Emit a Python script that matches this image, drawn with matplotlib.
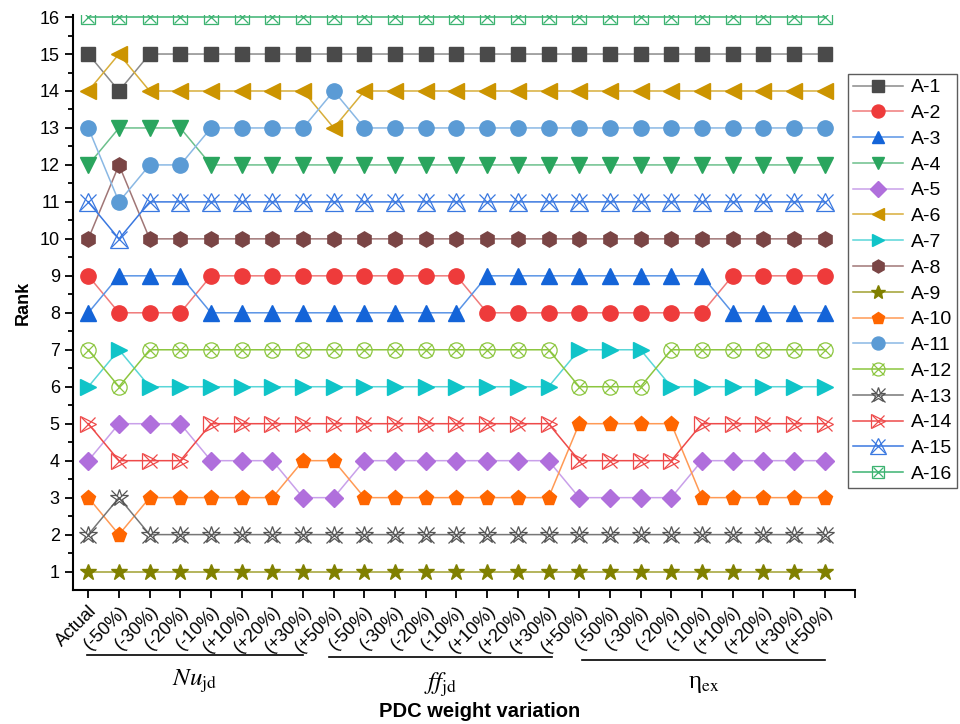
import matplotlib.pyplot as plt
import matplotlib.transforms as mtransforms
from matplotlib.lines import Line2D

plt.rcParams['font.family'] = ['Liberation Sans', 'DejaVu Sans']
plt.rcParams['mathtext.fontset'] = 'stix'

# x categories: Actual + 8 weight variations for each of 3 criteria
variations = ["(-50%)", "(-30%)", "(-20%)", "(-10%)", "(+10%)", "(+20%)", "(+30%)", "(+50%)"]
xlabels = ["Actual"] + variations * 3

# ranks, 25 points each
A1 = [15, 14] + [15] * 23
A2 = [9, 8, 8, 8] + [9] * 9 + [8] * 8 + [9] * 4
A3 = [8, 9, 9, 9] + [8] * 9 + [9] * 8 + [8] * 4
A4 = [12, 13, 13, 13] + [12] * 21
A5 = [4, 5, 5, 5, 4, 4, 4, 3, 3] + [4] * 7 + [3] * 4 + [4] * 5
A6 = [14, 15] + [14] * 6 + [13] + [14] * 16
A7 = [6, 7] + [6] * 14 + [7] * 3 + [6] * 6
A8 = [10, 12] + [10] * 23
A9 = [1] * 25
A10 = [3, 2] + [3] * 5 + [4, 4] + [3] * 7 + [5] * 4 + [3] * 5
A11 = [13, 11, 12, 12, 13, 13, 13, 13, 14] + [13] * 16
A12 = [7, 6] + [7] * 14 + [6] * 3 + [7] * 6
A13 = [2, 3] + [2] * 23
A14 = [5, 4, 4, 4] + [5] * 12 + [4] * 4 + [5] * 5
A15 = [11, 10] + [11] * 23
A16 = [16] * 25

series = [A1, A2, A3, A4, A5, A6, A7, A8, A9, A10, A11, A12, A13, A14, A15, A16]
names = ["A-%d" % (i + 1) for i in range(16)]

# (marker, marker color, line color, filled, cross overlay)
styles = [
    ('s', '#4a4a4a', '#8a8a8a', True, False),
    ('o', '#ee3b3b', '#f07a7a', True, False),
    ('^', '#1464d8', '#5a94e6', True, False),
    ('v', '#2aa55e', '#6cc08c', True, False),
    ('D', '#b06fdc', '#c9a0ea', True, False),
    ('<', '#cc9400', '#d8ae3a', True, False),
    ('>', '#10c4c8', '#5ad6d8', True, False),
    ('h', '#7a4545', '#a07676', True, False),
    ('*', '#808000', '#a0a030', True, False),
    ('p', '#ff6600', '#ff9a55', True, False),
    ('o', '#5b9bd5', '#8ab8e4', True, False),
    ('o', '#8cc63f', '#8cc63f', False, True),
    ('*', '#555555', '#777777', False, True),
    ('>', '#ee4a4a', '#ee4a4a', False, True),
    ('^', '#3a78e0', '#3a78e0', False, True),
    ('s', '#3cb371', '#3cb371', False, True),
]
msizes = [10, 11, 11, 11, 9, 11, 11, 11, 12, 11, 11, 11, 13, 12, 13, 10]

x = list(range(len(xlabels)))

fig = plt.figure(figsize=(9.6, 7.24), dpi=100)
ax = fig.add_axes([0.076, 0.185, 0.815, 0.794])

handles = []
for ys, name, st, ms in zip(series, names, styles, msizes):
    mk, mc, lc, filled, cross = st
    ax.plot(x, ys, '-', color=lc, lw=1.1, zorder=2)
    if filled:
        h = ax.plot(x, ys, linestyle='none', marker=mk, ms=ms, mfc=mc, mec=mc, zorder=3)[0]
        ln = Line2D([], [], color=lc, lw=1.1)
        handles.append((ln, h))
    else:
        h = ax.plot(x, ys, linestyle='none', marker=mk, ms=ms, mfc='none', mec=mc, mew=0.9, zorder=3)[0]
        hx = ax.plot(x, ys, linestyle='none', marker='x', ms=ms * 0.85, mec=mc, mew=0.9, zorder=3)[0]
        ln = Line2D([], [], color=lc, lw=1.1)
        handles.append((ln, h, hx))

ax.set_xlim(-0.5, 25)
ax.set_ylim(0.5, 16.05)
ax.set_xticks(range(26))
ax.set_xticklabels(xlabels + [""], rotation=45, ha='right', rotation_mode='anchor', fontsize=13)
ax.set_yticks(range(1, 17))
ax.set_yticks([i + 0.5 for i in range(1, 16)], minor=True)
ax.tick_params(axis='y', labelsize=13, direction='out', length=6, width=1.3)
ax.tick_params(axis='y', which='minor', length=3.5, width=1.3)
ax.tick_params(axis='x', direction='out', length=6, width=1.3, pad=3)
for s in ['top', 'right']:
    ax.spines[s].set_visible(False)
for s in ['left', 'bottom']:
    ax.spines[s].set_linewidth(1.5)
ax.set_ylabel("Rank", fontsize=13, fontweight='bold', labelpad=6)

# group brackets under the tick labels
trans = mtransforms.blended_transform_factory(ax.transData, fig.transFigure)
groups = [
    (-0.05, 7.0, r'$\mathit{Nu}_{\rm jd}$', 0.095),
    (7.85, 15.1, r'$\mathit{ff}_{\rm jd}$', 0.092),
    (16.1, 24.0, 'η$_{\\rm ex}$', 0.088),
]
for x0, x1, lab, yl in groups:
    ax.add_line(Line2D([x0, x1], [yl, yl], color='black', lw=1.2, transform=trans, clip_on=False))
    ax.text((x0 + x1) / 2, yl - 0.018, lab, transform=trans, ha='center', va='top',
            fontsize=18, family=['Liberation Serif', 'DejaVu Serif'])

fig.text(0.5, 0.004, "PDC weight variation", ha='center', va='bottom', fontsize=14.5, fontweight='bold')

leg = fig.legend(handles, names, loc='upper left', bbox_to_anchor=(0.883, 0.898),
                 fontsize=14, frameon=True, fancybox=False, edgecolor='#333333',
                 handlelength=2.6, handletextpad=0.4, labelspacing=0.42, borderpad=0.25,
                 borderaxespad=0, markerscale=0.85)
leg.get_frame().set_linewidth(1.0)

fig.savefig("out.png", dpi=100)
